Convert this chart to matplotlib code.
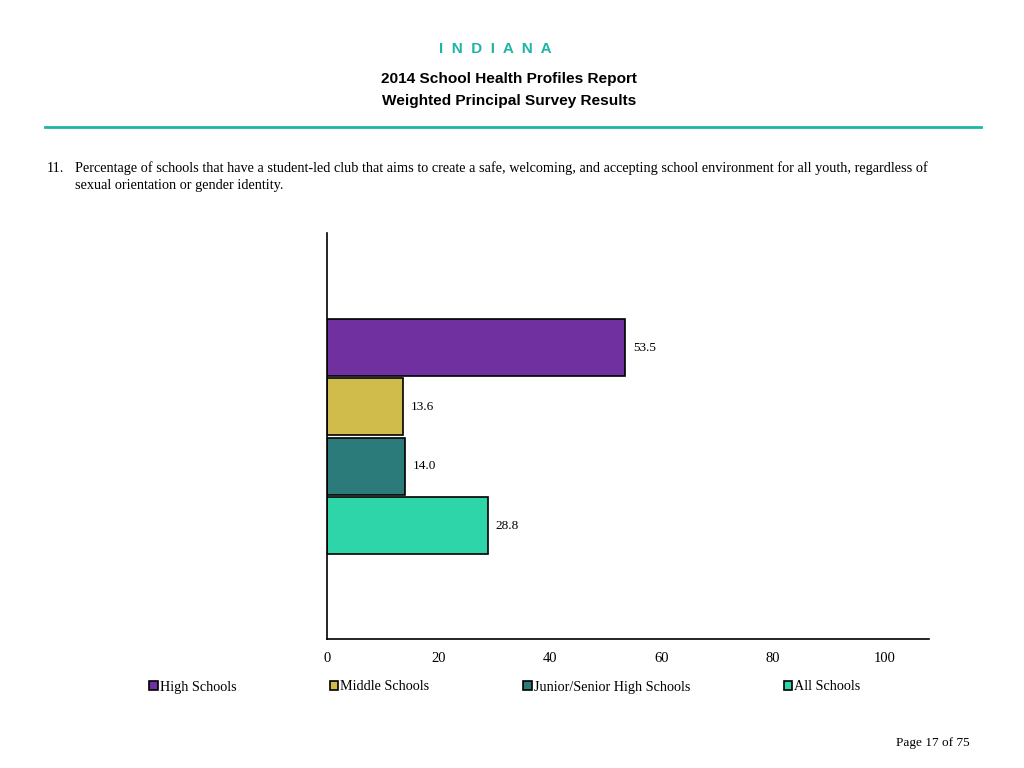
import matplotlib.pyplot as plt
from matplotlib.lines import Line2D

# data
groups = ['High Schools', 'Middle Schools', 'Junior/Senior High Schools', 'All Schools']
values = [53.5, 13.6, 14.0, 28.8]
colors = ['#7030A0', '#CFBC4A', '#2A7B7A', '#2DD5A8']
xticks = [0, 20, 40, 60, 80, 100]

serif = 'Liberation Serif'
sans = 'Liberation Sans'
teal = '#1DB5A6'

fig = plt.figure(figsize=(10.24, 7.68), dpi=100)

# header
fig.text(0.4835, 1 - 49 / 768, 'I  N  D  I  A  N  A', ha='center', va='center', color=teal,
         fontsize=11, fontweight='bold', family=sans)
fig.text(0.497, 1 - 78.5 / 768, '2014 School Health Profiles Report', ha='center', va='center',
         fontsize=11.1, fontweight='bold', family=sans)
fig.text(0.497, 1 - 100.5 / 768, 'Weighted Principal Survey Results', ha='center', va='center',
         fontsize=11.1, fontweight='bold', family=sans)
fig.add_artist(Line2D([45 / 1024, 981 / 1024], [1 - 127 / 768, 1 - 127 / 768],
                      color=teal, lw=2))

# question
fig.text(47 / 1024, 1 - 168 / 768, '11.', ha='left', va='center', fontsize=10.3, family=serif)
fig.text(75 / 1024, 1 - 168 / 768,
         'Percentage of schools that have a student-led club that aims to create a safe, welcoming, '
         'and accepting school environment for all youth, regardless of',
         ha='left', va='center', fontsize=10.3, family=serif)
fig.text(75 / 1024, 1 - 186 / 768, 'sexual orientation or gender identity.',
         ha='left', va='center', fontsize=10.3, family=serif)

# chart
ax = fig.add_axes([327 / 1024, 1 - 639 / 768, 602 / 1024, 406 / 768])
ypos = [3, 2, 1, 0]
for y, v, c, g in zip(ypos, values, colors, groups):
    ax.barh(y, v, height=0.96, color=c, edgecolor='black', linewidth=1.2, label=g)
    ax.text(v + 1.4, y, f'{v:.1f}', va='center', ha='left', fontsize=9.5, family=serif)

ax.set_xlim(0, 108)
ax.set_ylim(-1.91, 4.93)
ax.set_xticks(xticks)
ax.set_xticklabels([str(t) for t in xticks], family=serif, fontsize=10.5)
ax.set_yticks([])
ax.tick_params(axis='x', length=0, pad=9)
for s in ['top', 'right']:
    ax.spines[s].set_visible(False)
ax.spines['left'].set_linewidth(1.2)
ax.spines['bottom'].set_linewidth(1.2)

handles, labels = ax.get_legend_handles_labels()
fig.legend(handles, labels, loc='center left', bbox_to_anchor=(149 / 1024, 1 - 687 / 768),
           ncol=4, frameon=False, handlelength=0.6, handleheight=0.6, handletextpad=0.15,
           columnspacing=6.6, prop={'family': serif, 'size': 10.2}, borderaxespad=0,
           borderpad=0)

fig.text(970 / 1024, 1 - 743 / 768, 'Page 17 of 75', ha='right', va='center',
         fontsize=9.5, family=serif)

fig.savefig('out.png', dpi=100)
